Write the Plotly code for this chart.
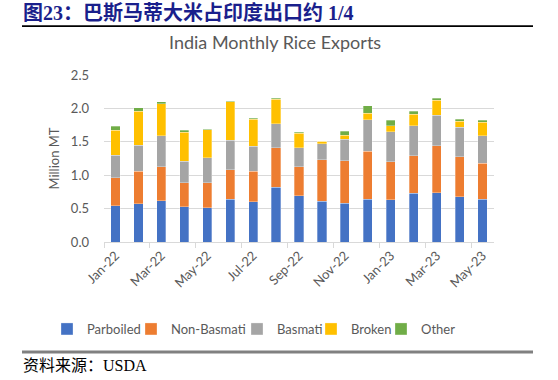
import plotly.graph_objects as go

months = ["Jan-22", "Feb-22", "Mar-22", "Apr-22", "May-22", "Jun-22", "Jul-22", "Aug-22",
          "Sep-22", "Oct-22", "Nov-22", "Dec-22", "Jan-23", "Feb-23", "Mar-23", "Apr-23", "May-23"]

parboiled   = [0.54, 0.57, 0.62, 0.53, 0.51, 0.64, 0.60, 0.82, 0.69, 0.61, 0.58, 0.64, 0.63, 0.73, 0.74, 0.68, 0.64]
non_basmati = [0.42, 0.49, 0.51, 0.36, 0.38, 0.44, 0.46, 0.59, 0.44, 0.62, 0.64, 0.72, 0.57, 0.56, 0.70, 0.60, 0.54]
basmati     = [0.34, 0.39, 0.46, 0.32, 0.37, 0.44, 0.37, 0.36, 0.28, 0.24, 0.32, 0.47, 0.45, 0.45, 0.46, 0.44, 0.41]
broken      = [0.37, 0.51, 0.48, 0.43, 0.42, 0.58, 0.41, 0.37, 0.22, 0.04, 0.06, 0.10, 0.09, 0.17, 0.22, 0.09, 0.20]
other       = [0.06, 0.05, 0.03, 0.03, 0.01, 0.01, 0.01, 0.01, 0.01, 0.00, 0.06, 0.11, 0.08, 0.05, 0.03, 0.03, 0.03]

series = [
    ("Parboiled", parboiled, "#4472C4"),
    ("Non-Basmati", non_basmati, "#ED7D31"),
    ("Basmati", basmati, "#A5A5A5"),
    ("Broken", broken, "#FFC000"),
    ("Other", other, "#70AD47"),
]

y_ticks = [0.0, 0.5, 1.0, 1.5, 2.0, 2.5]

FONT = "Lato, Noto Sans, sans-serif"
tick_font = dict(family=FONT, size=13, color="#595959")

L, T, W, H = 104, 75, 390, 167
def px_x(x):
    return (x - L) / W
def px_y(y):
    return (T + H - y) / H

# legend text start positions (page px) for each series, one small legend per series
legend_text_x = [83, 167, 273, 347, 417]

fig = go.Figure()
legend_layouts = {}
for i, (name, vals, color) in enumerate(series):
    lname = "legend" if i == 0 else f"legend{i + 1}"
    fig.add_trace(go.Bar(
        x=months, y=vals, name=name, legend=lname,
        marker=dict(color=color, line=dict(color="rgba(255,255,255,0.6)", width=0.5)),
    ))
    legend_layouts[lname] = dict(
        orientation="h", x=px_x(legend_text_x[i] - 36), xanchor="left",
        y=px_y(329), yanchor="middle",
        font=dict(family=FONT, size=13, color="#595959"),
        bgcolor="rgba(0,0,0,0)",
    )

fig.update_layout(
    barmode="stack",
    bargap=0.6,
    width=558, height=380,
    margin=dict(l=L, r=558 - L - W, t=T, b=380 - T - H, autoexpand=False),
    paper_bgcolor="white",
    plot_bgcolor="white",
    font=tick_font,
    showlegend=True,
    xaxis=dict(
        type="category", categoryorder="array", categoryarray=months,
        tickmode="linear", tick0=0, dtick=2,
        tickangle=-45, tickfont=tick_font,
        showline=True, linecolor="#D9D9D9", linewidth=1,
        ticks="outside", tickson="boundaries", ticklen=5, tickcolor="#D9D9D9",
        showgrid=False,
    ),
    yaxis=dict(
        range=[0, 2.5], tickvals=y_ticks, ticktext=[f"{v:.1f}" for v in y_ticks],
        tickfont=tick_font, showgrid=True, gridcolor="#D9D9D9", gridwidth=1,
        zeroline=False, showline=False, ticklabelstandoff=14,
        title=dict(text="Million MT", font=dict(family=FONT, size=13, color="#595959"), standoff=8),
    ),
    annotations=[
        dict(text="<b>图23：巴斯马蒂大米占印度出口约 1/4</b>", xref="paper", yref="paper",
             x=px_x(21), y=px_y(13), xanchor="left", yanchor="middle", showarrow=False,
             font=dict(family="Liberation Serif, Noto Sans CJK SC, serif", size=20, color="#1A1F8C")),
        # thin black rule under the heading
        dict(text="", xref="paper", yref="paper",
             x=px_x(22), y=px_y(26), xanchor="left", yanchor="middle", showarrow=False,
             width=511, height=1, bgcolor="#000000", borderpad=0, borderwidth=0,
             font=dict(size=1)),
        dict(text="India Monthly Rice Exports", xref="paper", yref="paper",
             x=px_x(275), y=px_y(42), xanchor="center", yanchor="middle", showarrow=False,
             font=dict(family=FONT, size=18, color="#595959")),
        dict(text="资料来源：USDA", xref="paper", yref="paper",
             x=px_x(21), y=px_y(365), xanchor="left", yanchor="middle", showarrow=False,
             font=dict(family="Liberation Serif, Noto Sans CJK SC, serif", size=16, color="#000000")),
    ],
    shapes=[
        dict(type="line", xref="paper", yref="paper", x0=px_x(22), x1=px_x(533),
             y0=px_y(26), y1=px_y(26), line=dict(color="#000000", width=1.5), layer="above"),
        dict(type="rect", xref="paper", yref="paper", x0=px_x(22), x1=px_x(533),
             y0=px_y(353.5), y1=px_y(350.5), fillcolor="#808080", line=dict(width=0), layer="above"),
    ],
    **legend_layouts,
)

fig.write_html("out.html", post_script="document.body.style.margin='0';",
               config={"displayModeBar": False})
